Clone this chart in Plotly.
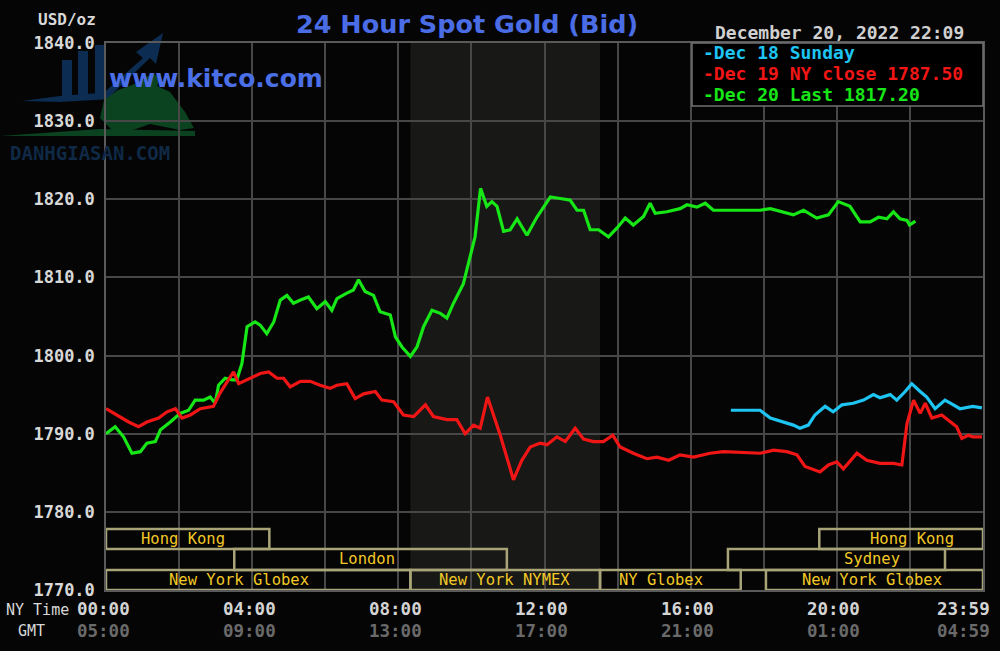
import plotly.graph_objects as go

# ---------------- DATA (NY time in hours, price in USD/oz) ----------------
dec20_hours = [0.00, 0.25, 0.48, 0.71, 0.94, 1.12, 1.35, 1.49, 1.76, 2.03, 2.26, 2.44, 2.67, 2.85, 2.99,
               3.08, 3.26, 3.45, 3.58, 3.72, 3.86, 4.08, 4.22, 4.40, 4.59, 4.77, 4.95, 5.13, 5.32, 5.54,
               5.77, 6.00, 6.18, 6.32, 6.59, 6.77, 6.91, 7.09, 7.32, 7.50, 7.78, 7.92, 8.10, 8.33, 8.51,
               8.69, 8.92, 9.15, 9.33, 9.51, 9.78, 9.97, 10.10, 10.25, 10.42, 10.56, 10.70, 10.88, 11.06,
               11.25, 11.52, 11.79, 12.16, 12.43, 12.70, 12.89, 13.07, 13.25, 13.48, 13.75, 13.98, 14.21,
               14.43, 14.71, 14.89, 15.03, 15.35, 15.71, 15.90, 16.17, 16.40, 16.62, 17.90, 18.18, 18.54,
               18.81, 19.09, 19.45, 19.77, 20.04, 20.36, 20.64, 20.91, 21.14, 21.37, 21.55, 21.73, 21.92,
               21.99, 22.15]
dec20_price = [1790.0, 1790.9, 1789.6, 1787.5, 1787.7, 1788.8, 1789.0, 1790.5, 1791.5, 1792.6, 1793.0,
               1794.3, 1794.3, 1794.7, 1793.9, 1796.2, 1797.1, 1796.9, 1796.9, 1799.0, 1803.7, 1804.3,
               1803.9, 1802.8, 1804.3, 1807.1, 1807.7, 1806.7, 1807.1, 1807.5, 1806.0, 1806.9, 1805.8,
               1807.3, 1808.0, 1808.4, 1809.7, 1808.2, 1807.7, 1805.6, 1805.2, 1802.4, 1801.1, 1799.9,
               1801.1, 1803.7, 1805.8, 1805.4, 1804.8, 1806.7, 1809.2, 1812.6, 1815.2, 1821.4, 1819.1,
               1819.7, 1819.1, 1815.9, 1816.1, 1817.5, 1815.4, 1817.7, 1820.3, 1820.1, 1819.9, 1818.6,
               1818.6, 1816.1, 1816.1, 1815.2, 1816.3, 1817.6, 1816.7, 1817.8, 1819.5, 1818.2, 1818.4,
               1818.8, 1819.3, 1819.0, 1819.5, 1818.6, 1818.6, 1818.8, 1818.4, 1818.0, 1818.6, 1817.6,
               1818.0, 1819.7, 1819.1, 1817.1, 1817.1, 1817.7, 1817.5, 1818.4, 1817.5, 1817.3, 1816.7,
               1817.2]

dec19_hours = [0.00, 0.30, 0.62, 0.89, 1.12, 1.44, 1.67, 1.90, 2.08, 2.31, 2.58, 2.94, 3.12, 3.35, 3.49,
               3.63, 3.95, 4.22, 4.45, 4.68, 4.86, 5.04, 5.32, 5.59, 5.86, 6.13, 6.32, 6.59, 6.82, 7.05,
               7.37, 7.55, 7.87, 8.14, 8.42, 8.74, 8.96, 9.33, 9.60, 9.83, 10.06, 10.24, 10.44, 10.79,
               11.15, 11.38, 11.61, 11.88, 12.07, 12.34, 12.57, 12.84, 13.07, 13.34, 13.61, 13.87, 14.07,
               14.43, 14.80, 15.08, 15.40, 15.71, 16.08, 16.53, 16.90, 17.90, 18.27, 18.63, 18.91, 19.13,
               19.54, 19.77, 20.00, 20.18, 20.55, 20.82, 21.18, 21.55, 21.78, 21.92, 22.10, 22.28, 22.42,
               22.60, 22.87, 23.10, 23.28, 23.42, 23.60, 23.72, 23.97]
dec19_price = [1793.2, 1792.4, 1791.5, 1790.9, 1791.5, 1792.0, 1792.8, 1793.2, 1792.0, 1792.4, 1793.2,
               1793.5, 1795.2, 1796.9, 1797.9, 1796.4, 1797.1, 1797.7, 1797.9, 1797.1, 1797.1, 1796.0,
               1796.7, 1796.7, 1796.2, 1795.8, 1796.2, 1796.4, 1794.5, 1795.1, 1795.4, 1794.3, 1794.1,
               1792.4, 1792.2, 1793.7, 1792.2, 1791.8, 1791.8, 1790.0, 1791.1, 1790.7, 1794.7, 1789.8,
               1784.1, 1786.6, 1788.3, 1788.8, 1788.6, 1789.6, 1789.0, 1790.7, 1789.3, 1789.0, 1789.0,
               1789.8, 1788.3, 1787.5, 1786.8, 1787.0, 1786.6, 1787.3, 1787.0, 1787.5, 1787.7, 1787.5,
               1787.9, 1787.7, 1787.3, 1785.8, 1785.1, 1786.0, 1786.4, 1785.5, 1787.5, 1786.6, 1786.2,
               1786.2, 1786.0, 1791.3, 1794.3, 1792.6, 1793.9, 1792.0, 1792.4, 1791.5, 1790.9, 1789.4,
               1789.8, 1789.6, 1789.6]

dec18_hours = [17.10, 17.90, 18.18, 18.54, 18.81, 18.99, 19.22, 19.40, 19.68, 19.90, 20.14, 20.45, 20.73,
               21.00, 21.18, 21.46, 21.64, 21.87, 22.05, 22.28, 22.46, 22.69, 22.96, 23.19, 23.37, 23.72,
               23.97]
dec18_price = [1793.0, 1793.0, 1792.0, 1791.5, 1791.1, 1790.7, 1791.1, 1792.4, 1793.5, 1792.8, 1793.7,
               1793.9, 1794.3, 1795.0, 1794.6, 1795.0, 1794.3, 1795.4, 1796.4, 1795.4, 1794.7, 1793.2,
               1794.3, 1793.7, 1793.2, 1793.5, 1793.3]

y_ticks = [1770, 1780, 1790, 1800, 1810, 1820, 1830, 1840]
y_tick_labels = ["1770.0", "1780.0", "1790.0", "1800.0", "1810.0", "1820.0", "1830.0", "1840.0"]
ny_tick_hours = [0, 4, 8, 12, 16, 20, 24]
ny_tick_labels = ["00:00", "04:00", "08:00", "12:00", "16:00", "20:00", "23:59"]
gmt_tick_labels = ["05:00", "09:00", "13:00", "17:00", "21:00", "01:00", "04:59"]

legend_labels = ["-Dec 18 Sunday", "-Dec 19 NY close 1787.50", "-Dec 20 Last 1817.20"]

# sessions: (label, start hour, end hour, row)  row 0 = bottom
sessions = [("New York Globex", 0.0, 8.33, 0), ("New York NYMEX", 8.33, 13.52, 0),
            ("NY Globex", 13.52, 17.37, 0), ("New York Globex", 18.06, 24.0, 0),
            ("London", 3.51, 10.97, 1), ("Sydney", 17.02, 22.96, 1),
            ("Hong Kong", 0.0, 4.47, 2), ("Hong Kong", 19.52, 24.0, 2)]
session_label_hours = [3.63, 10.9, 15.18, 20.97, 7.15, 20.97, 2.11, 22.06]
nymex_shade = (8.33, 13.52)

# ---------------- STYLE ----------------
C_GREEN = "#17e617"
C_RED = "#f01616"
C_CYAN = "#1ec4f2"
C_GRID = "#474747"
C_BOX = "#a8a478"
C_SESS_TXT = "#f2c826"
C_TXT = "#d8d8d8"
MONO = "DejaVu Sans Mono"

L, R, T, B = 106, 983, 43, 590
W, H = 1000, 651


def px(xp):
    return (xp - L) / (R - L)


def py(yp):
    return (B - yp) / (B - T)


def path(points):
    s = "M " + " L ".join(f"{px(a):.4f},{py(b):.4f}" for a, b in points) + " Z"
    return s


fig = go.Figure()
fig.add_trace(go.Scatter(x=dec18_hours, y=dec18_price, mode="lines",
                         line=dict(color=C_CYAN, width=3.2), hoverinfo="skip"))
fig.add_trace(go.Scatter(x=dec20_hours, y=dec20_price, mode="lines",
                         line=dict(color=C_GREEN, width=3.2), hoverinfo="skip"))
fig.add_trace(go.Scatter(x=dec19_hours, y=dec19_price, mode="lines",
                         line=dict(color=C_RED, width=3.2), hoverinfo="skip"))

shapes = []
# watermark logo (paper coords, below everything)
wm_blue = "#0c2c52"
wm_green = "#0b4220"
for x0, x1, y0, y1 in [(62, 72, 60, 98), (78, 88, 51, 98), (95, 105, 45, 98)]:
    shapes.append(dict(type="rect", xref="paper", yref="paper", x0=px(x0), x1=px(x1),
                       y0=py(y1), y1=py(y0), fillcolor=wm_blue, line=dict(width=0), layer="below"))
shapes.append(dict(type="path", xref="paper", yref="paper", layer="below", fillcolor=wm_blue,
                   line=dict(width=0),
                   path=path([(100, 96), (143, 58), (136, 52), (163, 33), (156, 64), (150, 58), (108, 98)])))
shapes.append(dict(type="path", xref="paper", yref="paper", layer="below", fillcolor=wm_blue,
                   line=dict(width=0),
                   path=path([(22, 101), (60, 96), (112, 92), (112, 99), (60, 102)])))
shapes.append(dict(type="path", xref="paper", yref="paper", layer="below", fillcolor=wm_green,
                   line=dict(width=0),
                   path=path([(104, 100), (118, 90), (140, 82), (152, 73), (160, 78), (157, 86),
                              (170, 92), (185, 112), (194, 128), (180, 130), (150, 124), (130, 131),
                              (112, 130), (100, 118)])))
shapes.append(dict(type="path", xref="paper", yref="paper", layer="below", fillcolor=wm_green,
                   line=dict(width=0),
                   path=path([(0, 136), (100, 129), (195, 131), (195, 136)])))

# NYMEX shaded trading region
shapes.append(dict(type="rect", xref="x", yref="y", x0=nymex_shade[0], x1=nymex_shade[1],
                   y0=1770, y1=1840, fillcolor="#181816", line=dict(width=0), layer="below"))

# session rows (in price units of the bottom band)
row_edges = [1770.0, 1772.56, 1775.25, 1777.81]
# black gap in bottom row
shapes.append(dict(type="rect", xref="x", yref="y", x0=17.37, x1=18.06, y0=row_edges[0],
                   y1=row_edges[1], fillcolor="#050505", line=dict(width=0), layer="above"))
for (lab, h0, h1, row) in sessions:
    shapes.append(dict(type="rect", xref="x", yref="y", x0=h0, x1=h1,
                       y0=row_edges[row], y1=row_edges[row + 1],
                       line=dict(color=C_BOX, width=2.5), fillcolor="rgba(0,0,0,0)", layer="above"))

# legend box
shapes.append(dict(type="rect", xref="paper", yref="paper", x0=px(692), x1=1.0, y0=py(106), y1=1.0,
                   fillcolor="#000000", line=dict(color="#707070", width=1.5), layer="above"))

ann = []
# title + site
ann.append(dict(text="24 Hour Spot Gold (Bid)", xref="paper", yref="paper", x=px(467), y=py(24),
                xanchor="center", yanchor="middle", showarrow=False,
                font=dict(family="DejaVu Sans", size=25.5, color="#4a6de6", weight="bold")))
ann.append(dict(text="www.kitco.com", xref="paper", yref="paper", x=px(107), y=py(78),
                xanchor="left", yanchor="middle", showarrow=False,
                font=dict(family="DejaVu Sans", size=25, color="#4a6fe6", weight="bold")))
ann.append(dict(text="DANHGIASAN.COM", xref="paper", yref="paper", x=px(8), y=py(153),
                xanchor="left", yanchor="middle", showarrow=False,
                font=dict(family=MONO, size=19, color="#0f2946", weight="bold")))
ann.append(dict(text="USD/oz", xref="paper", yref="paper", x=px(98), y=py(20),
                xanchor="right", yanchor="middle", showarrow=False,
                font=dict(family=MONO, size=16, color=C_TXT, weight="bold")))
ann.append(dict(text="December 20, 2022 22:09", xref="paper", yref="paper", x=px(966), y=py(32),
                xanchor="right", yanchor="middle", showarrow=False,
                font=dict(family=MONO, size=18, color="#d0d0d0", weight="bold")))
# legend entries
for i, (lab, col) in enumerate(zip(legend_labels, [C_CYAN, C_RED, C_GREEN])):
    ann.append(dict(text=lab, xref="paper", yref="paper", x=px(701), y=py(53 + 20.5 * i),
                    xanchor="left", yanchor="middle", showarrow=False,
                    font=dict(family=MONO, size=18, color=col, weight="bold")))
# session labels
for (lab, h0, h1, row), hx in zip(sessions, session_label_hours):
    ann.append(dict(text=lab, xref="x", yref="y", x=hx, y=(row_edges[row] + row_edges[row + 1]) / 2,
                    xanchor="center", yanchor="middle", showarrow=False,
                    font=dict(family=MONO, size=15.5, color=C_SESS_TXT)))
# time axis labels
ann.append(dict(text="NY Time", xref="paper", yref="paper", x=px(4), y=py(610),
                xanchor="left", yanchor="middle", showarrow=False,
                font=dict(family=MONO, size=15, color=C_TXT)))
ann.append(dict(text="GMT", xref="paper", yref="paper", x=px(31), y=py(631),
                xanchor="center", yanchor="middle", showarrow=False,
                font=dict(family=MONO, size=15, color=C_TXT)))
for hx, lab_ny, lab_gmt in zip(ny_tick_hours, ny_tick_labels, gmt_tick_labels):
    last = hx == 24
    ann.append(dict(text=lab_ny, xref="x", yref="paper", x=hx, y=py(609),
                    xanchor="right" if last else "center", xshift=9 if last else -3,
                    yanchor="middle", showarrow=False,
                    font=dict(family=MONO, size=17.5, color="#d4d4d4", weight="bold")))
    ann.append(dict(text=lab_gmt, xref="x", yref="paper", x=hx, y=py(631),
                    xanchor="right" if last else "center", xshift=9 if last else -3,
                    yanchor="middle", showarrow=False,
                    font=dict(family=MONO, size=17.5, color="#6a6a6a", weight="bold")))

fig.update_layout(
    width=W, height=H,
    margin=dict(l=L, r=W - R, t=T, b=H - B, pad=0),
    paper_bgcolor="#050505",
    plot_bgcolor="rgba(0,0,0,0)",
    showlegend=False,
    shapes=shapes,
    annotations=ann,
    xaxis=dict(range=[0, 24], tickvals=list(range(0, 25, 2)), showticklabels=False,
               showgrid=True, gridcolor=C_GRID, gridwidth=2, zeroline=False,
               showline=True, linecolor="#5a5a5a", linewidth=1.5, mirror=True, ticks=""),
    yaxis=dict(range=[1770, 1840], tickvals=y_ticks, ticktext=y_tick_labels,
               showgrid=True, gridcolor=C_GRID, gridwidth=2, zeroline=False,
               showline=True, linecolor="#5a5a5a", linewidth=1.5, mirror=True, ticks="",
               ticklabelstandoff=6,
               tickfont=dict(family=MONO, size=17, color=C_TXT, weight="bold")),
)

fig.write_html("out.html")
